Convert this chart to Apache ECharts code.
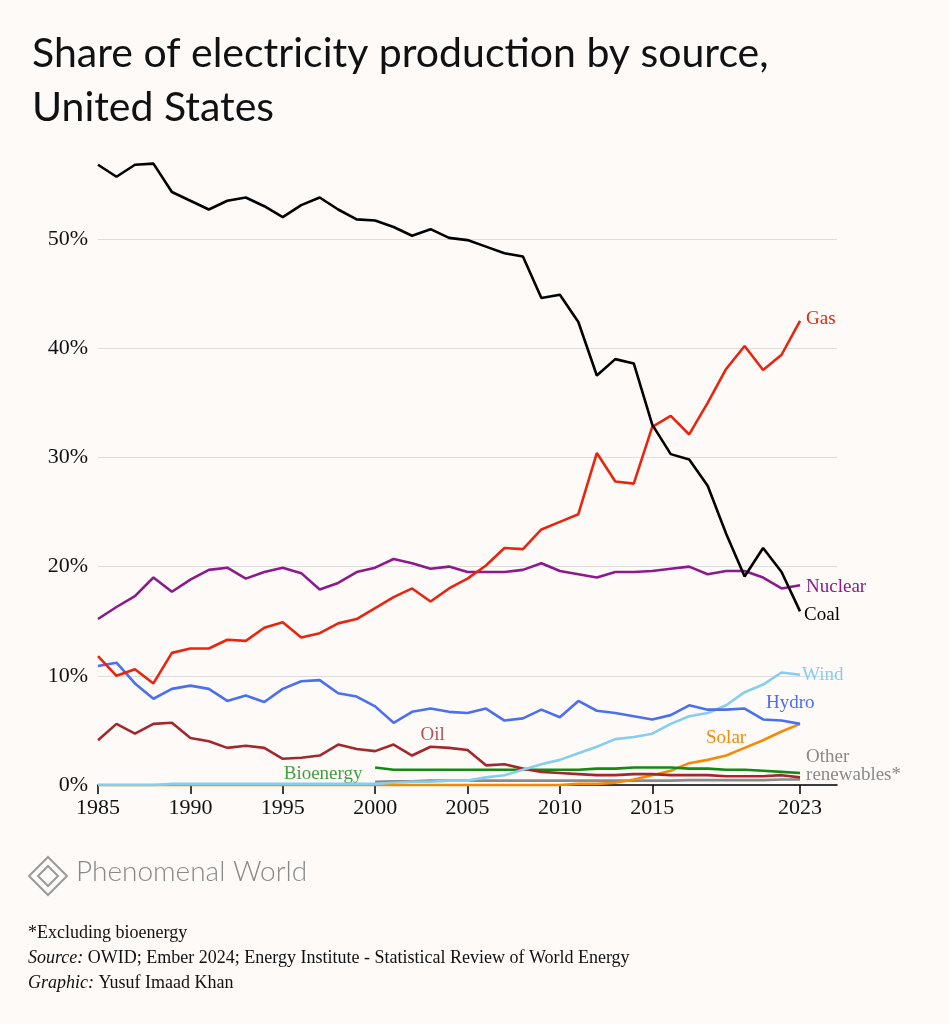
<!DOCTYPE html>
<html><head><meta charset="utf-8">
<script src="https://cdn.jsdelivr.net/npm/echarts@6/dist/echarts.min.js"></script>
<style>html,body{margin:0;background:#fdfaf8}#c{width:949px;height:1024px}</style>
</head><body><div id="c"></div>
<script>
const years=[];for(let y=1985;y<=2023;y++)years.push(y);
const coal=[56.8,55.7,56.8,56.9,54.3,53.5,52.7,53.5,53.8,53.0,52.0,53.1,53.8,52.7,51.8,51.7,51.1,50.3,50.9,50.1,49.9,49.3,48.7,48.4,44.6,44.9,42.4,37.5,39.0,38.6,33.0,30.3,29.8,27.4,23.0,19.1,21.7,19.5,15.9];
const gas=[11.8,10.0,10.6,9.3,12.1,12.5,12.5,13.3,13.2,14.4,14.9,13.5,13.9,14.8,15.2,16.2,17.2,18.0,16.8,18.0,18.9,20.1,21.7,21.6,23.4,24.1,24.8,30.4,27.8,27.6,32.8,33.8,32.1,35.0,38.1,40.2,38.0,39.4,42.5];
const nuclear=[15.2,16.3,17.3,19.0,17.7,18.8,19.7,19.9,18.9,19.5,19.9,19.4,17.9,18.5,19.5,19.9,20.7,20.3,19.8,20.0,19.5,19.5,19.5,19.7,20.3,19.6,19.3,19.0,19.5,19.5,19.6,19.8,20.0,19.3,19.6,19.6,19.0,18.0,18.3];
const hydro=[10.9,11.2,9.3,7.9,8.8,9.1,8.8,7.7,8.2,7.6,8.8,9.5,9.6,8.4,8.1,7.2,5.7,6.7,7.0,6.7,6.6,7.0,5.9,6.1,6.9,6.2,7.7,6.8,6.6,6.3,6.0,6.4,7.3,6.9,6.9,7.0,6.0,5.9,5.6];
const oil=[4.1,5.6,4.7,5.6,5.7,4.3,4.0,3.4,3.6,3.4,2.4,2.5,2.7,3.7,3.3,3.1,3.7,2.7,3.5,3.4,3.2,1.8,1.9,1.5,1.2,1.1,1.0,0.9,0.9,1.0,1.0,0.9,0.9,0.9,0.8,0.8,0.8,0.9,0.7];
const wind=[0,0,0,0,0.1,0.1,0.1,0.1,0.1,0.1,0.1,0.1,0.1,0.1,0.1,0.1,0.2,0.3,0.3,0.4,0.4,0.7,0.9,1.4,1.9,2.3,2.9,3.5,4.2,4.4,4.7,5.6,6.3,6.6,7.3,8.5,9.2,10.3,10.1];
const solar=[0,0,0,0,0,0,0,0,0,0,0,0,0,0,0,0,0,0,0,0,0,0,0,0,0,0,0.1,0.1,0.2,0.5,0.9,1.3,2.0,2.3,2.7,3.4,4.1,4.9,5.6];
const bioYears=years.slice(15);
const bio=[1.6,1.4,1.4,1.4,1.4,1.4,1.4,1.4,1.4,1.4,1.4,1.4,1.5,1.5,1.6,1.6,1.6,1.5,1.5,1.4,1.4,1.3,1.2,1.1];
const other=[0.3,0.35,0.35,0.4,0.4,0.4,0.4,0.4,0.4,0.4,0.4,0.4,0.4,0.4,0.4,0.4,0.4,0.45,0.45,0.45,0.45,0.45,0.5,0.5];
const xTicks=[1985,1990,1995,2000,2005,2010,2015,2023];
const yTicks=[0,10,20,30,40,50];

const SERIF='"Liberation Serif", "DejaVu Serif", serif';
const LF=19;
const z=(xs,ys)=>xs.map((x,i)=>[x,ys[i]]);
function ser(name,xs,ys,color,endOpt){
  const s={name,type:'line',data:z(xs,ys),showSymbol:false,clip:false,
    lineStyle:{color,width:2.6},itemStyle:{color},emphasis:{disabled:true}};
  if(endOpt){s.endLabel=Object.assign({show:true,formatter:endOpt.text||name,color,fontFamily:SERIF,fontSize:LF,lineHeight:18,distance:4},endOpt);}
  return s;
}
const chart=echarts.init(document.getElementById('c'));
chart.setOption({
  backgroundColor:'#fdfaf8',
  animation:false,
  grid:{left:98,right:112,top:239,bottom:239},
  title:{text:'Share of electricity production by source,\nUnited States',left:27,top:22,
    textStyle:{fontFamily:'Lato, "Open Sans", sans-serif',fontWeight:400,fontSize:41,lineHeight:54,color:'#111'}},
  xAxis:{type:'value',min:1985,max:2025,
    axisLine:{lineStyle:{color:'#000',width:1.5}},
    axisTick:{customValues:xTicks,length:9,lineStyle:{color:'#000',width:1.5}},
    axisLabel:{customValues:xTicks,formatter:v=>String(v),color:'#111',fontFamily:SERIF,fontSize:22,margin:12},
    splitLine:{show:false}},
  yAxis:{type:'value',min:0,max:50,interval:10,
    axisLine:{show:false},axisTick:{show:false},
    axisLabel:{formatter:'{value}%',color:'#111',fontFamily:SERIF,fontSize:22,margin:10},
    splitLine:{lineStyle:{color:'#dddddd',width:1}}},
  series:[
    ser('Other renewables',bioYears,other,'#8a8a8a',{text:'Other\nrenewables*',offset:[2,-14]}),
    ser('Solar',years,solar,'#f58a07',{offset:[-98,14]}),
    ser('Bioenergy',bioYears,bio,'#138a13',null),
    ser('Oil',years,oil,'#a3282e',null),
    ser('Wind',years,wind,'#87ceeb',{offset:[-2,0]}),
    ser('Hydro',years,hydro,'#4a6ff0',{offset:[-38,-21]}),
    ser('Nuclear',years,nuclear,'#8b1a8b',{offset:[2,2]}),
    ser('Gas',years,gas,'#e8260f',{offset:[2,-2]}),
    ser('Coal',years,coal,'#000000',{offset:[0,4]}),
    {type:'scatter',silent:true,symbolSize:0,data:[[2003,oil[18]],[2000,bio[0]]],
      label:{show:true,fontFamily:SERIF,fontSize:LF,
        formatter:p=>p.dataIndex===0?'{o|Oil}':'{b|Bioenergy}',
        rich:{o:{color:'#a3282e',fontSize:LF,fontFamily:SERIF},b:{color:'#138a13',fontSize:LF,fontFamily:SERIF}},
        position:'top',distance:0},
      labelLayout:p=>p.dataIndex===0?{dx:2,dy:-2}:{dx:-52,dy:16}}
  ],
  graphic:[
    {type:'polygon',shape:{points:[[48,857],[67,876],[48,895],[29,876]]},style:{fill:'none',stroke:'#999',lineWidth:2}},
    {type:'polygon',shape:{points:[[48,866],[58,876],[48,886],[38,876]]},style:{fill:'none',stroke:'#999',lineWidth:2}},
    {type:'text',left:76,top:858,style:{text:'Phenomenal World',fill:'#888',font:'300 28px Lato, "Open Sans", sans-serif'}},
    {type:'text',left:28,top:924,style:{text:'*Excluding bioenergy',fill:'#111',font:'18px '+SERIF}},
    {type:'text',left:28,top:949,style:{text:'{i|Source:} OWID; Ember 2024; Energy Institute - Statistical Review of World Energy',fill:'#111',font:'18px '+SERIF,rich:{i:{fontStyle:'italic',fontSize:18,fontFamily:SERIF,fill:'#111'}}}},
    {type:'text',left:28,top:974,style:{text:'{i|Graphic:} Yusuf Imaad Khan',fill:'#111',font:'18px '+SERIF,rich:{i:{fontStyle:'italic',fontSize:18,fontFamily:SERIF,fill:'#111'}}}}
  ]
});
</script></body></html>
